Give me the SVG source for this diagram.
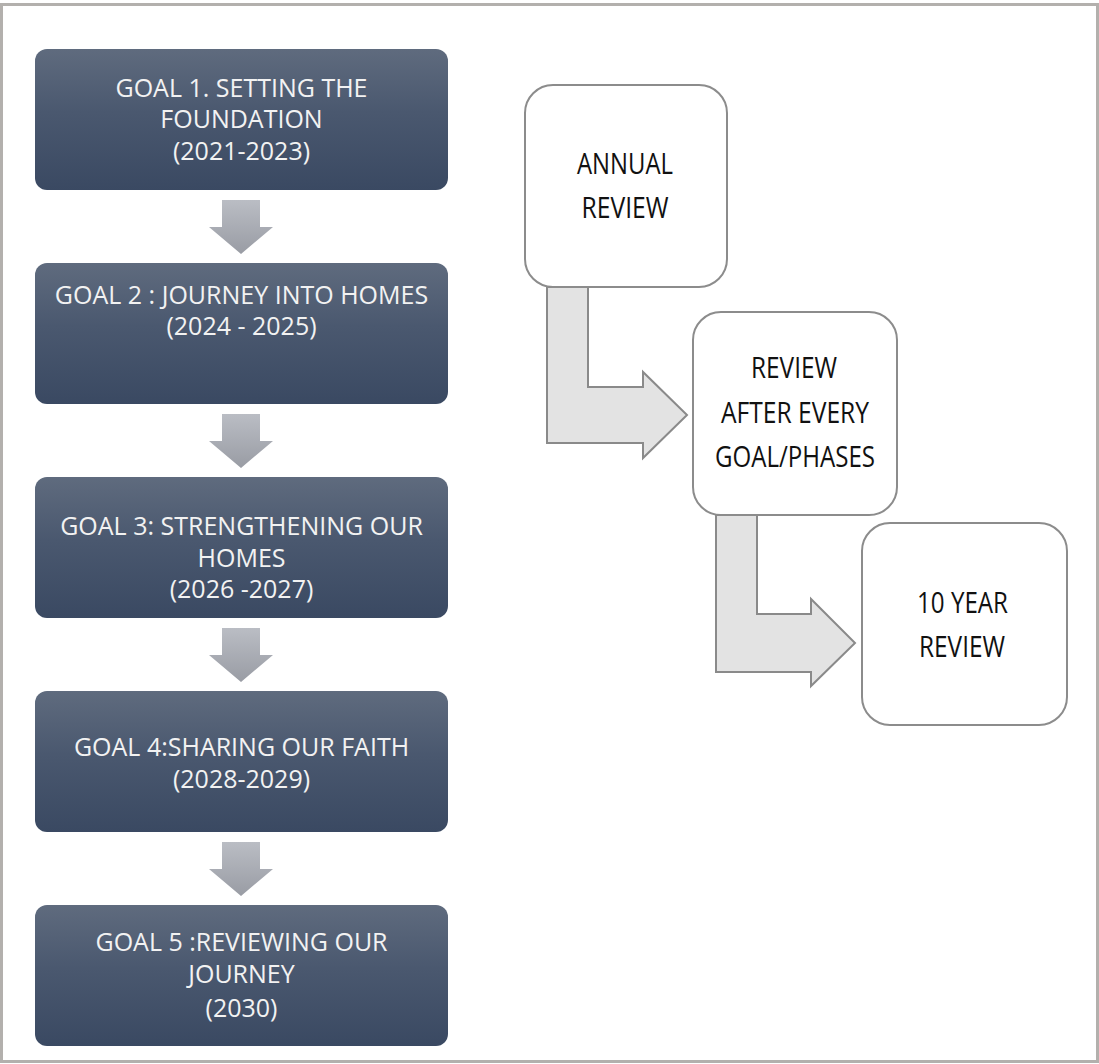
<svg xmlns="http://www.w3.org/2000/svg" width="1099" height="1064" viewBox="0 0 1099 1064">
  <defs>
    <linearGradient id="goalFill" x1="0" y1="0" x2="0" y2="1">
      <stop offset="0" stop-color="#5f6b7e"/>
      <stop offset="0.45" stop-color="#4a586f"/>
      <stop offset="1" stop-color="#3a4962"/>
    </linearGradient>
    <linearGradient id="stepFill" x1="0" y1="0" x2="0" y2="1">
      <stop offset="0" stop-color="#babdc4"/>
      <stop offset="1" stop-color="#999ca4"/>
    </linearGradient>
    <!-- downward step arrow between goal boxes; origin at its top centre -->
    <path id="stepArrow" d="M-19,0 H19 V27 H32 L0,54 L-32,27 H-19 Z"/>
  </defs>
  <style>
    .goal rect { fill: url(#goalFill); }
    .goal text { font-family: "Open Sans", "Liberation Sans", sans-serif; font-size: 25px; fill: #f2f2f2; text-anchor: middle; }
    .review rect { fill: #ffffff; stroke: #8c8c8c; stroke-width: 2; }
    .review text { font-family: "Open Sans", "Liberation Sans", sans-serif; font-size: 29px; fill: #111111; text-anchor: middle; }
    .step { fill: url(#stepFill); }
    .bend { fill: #e3e3e3; stroke: #8a8a8a; stroke-width: 2; stroke-linejoin: miter; }
  </style>

  <rect width="1099" height="1064" fill="#ffffff"/>
  <!-- outer frame -->
  <rect x="1.5" y="4.5" width="1096" height="1057" fill="none" stroke="#b3b0ad" stroke-width="3"/>

  <g id="connectors">
    <use href="#stepArrow" class="step" x="241" y="200"/>
    <use href="#stepArrow" class="step" x="241" y="414"/>
    <use href="#stepArrow" class="step" x="241" y="628"/>
    <use href="#stepArrow" class="step" x="241" y="842"/>
    <path class="bend" d="M547,287 H588 V387 H643 V372 L687,415 L643,458 V443 H547 Z"/>
    <path class="bend" d="M716,515 H757 V614 H811 V599 L855,643 L811,686 V672 H716 Z"/>
  </g>

  <g id="goal1" class="goal">
    <rect x="35" y="49" width="413" height="141" rx="12"/>
    <text x="241.5" y="97">GOAL 1. SETTING THE</text>
    <text x="241.5" y="128">FOUNDATION</text>
    <text x="241.5" y="160">(2021-2023)</text>
  </g>
  <g id="goal2" class="goal">
    <rect x="35" y="263" width="413" height="141" rx="12"/>
    <text x="241.5" y="304">GOAL 2 : JOURNEY INTO HOMES</text>
    <text x="241.5" y="335">(2024 - 2025)</text>
  </g>
  <g id="goal3" class="goal">
    <rect x="35" y="477" width="413" height="141" rx="12"/>
    <text x="241.5" y="535">GOAL 3: STRENGTHENING OUR</text>
    <text x="241.5" y="567">HOMES</text>
    <text x="241.5" y="598">(2026 -2027)</text>
  </g>
  <g id="goal4" class="goal">
    <rect x="35" y="691" width="413" height="141" rx="12"/>
    <text x="241.5" y="756">GOAL 4:SHARING OUR FAITH</text>
    <text x="241.5" y="788">(2028-2029)</text>
  </g>
  <g id="goal5" class="goal">
    <rect x="35" y="905" width="413" height="141" rx="12"/>
    <text x="241.5" y="951">GOAL 5 :REVIEWING OUR</text>
    <text x="241.5" y="983">JOURNEY</text>
    <text x="241.5" y="1017">(2030)</text>
  </g>

  <g id="annual-review" class="review">
    <rect x="525" y="85" width="202" height="202" rx="28"/>
    <text x="625" y="174" textLength="96" lengthAdjust="spacingAndGlyphs">ANNUAL</text>
    <text x="625" y="218" textLength="87" lengthAdjust="spacingAndGlyphs">REVIEW</text>
  </g>
  <g id="phase-review" class="review">
    <rect x="693" y="312" width="204" height="203" rx="28"/>
    <text x="794" y="378" textLength="86" lengthAdjust="spacingAndGlyphs">REVIEW</text>
    <text x="795" y="423" textLength="148" lengthAdjust="spacingAndGlyphs">AFTER EVERY</text>
    <text x="795" y="467" textLength="160" lengthAdjust="spacingAndGlyphs">GOAL/PHASES</text>
  </g>
  <g id="ten-year-review" class="review">
    <rect x="862" y="523" width="205" height="202" rx="28"/>
    <text x="962.5" y="613" textLength="91" lengthAdjust="spacingAndGlyphs">10 YEAR</text>
    <text x="962" y="657" textLength="86" lengthAdjust="spacingAndGlyphs">REVIEW</text>
  </g>
</svg>
